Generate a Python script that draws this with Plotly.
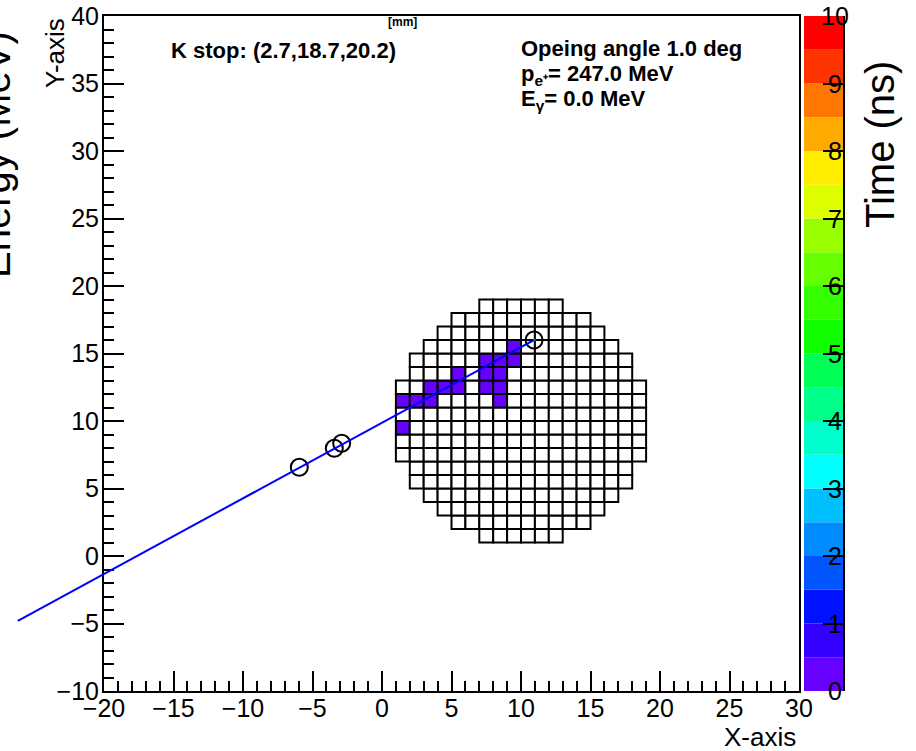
import plotly.graph_objects as go

# ---- axis ranges ----
X_RANGE = [-20, 30]
Y_RANGE = [-10, 40]
T_RANGE = [0, 10]

# ---- calorimeter layout: one entry per row (row bottom edge, first and last cell edge) ----
ROW_Y = [1, 2, 3, 4, 5, 6, 7, 8, 9, 10, 11, 12, 13, 14, 15, 16, 17, 18]
ROW_XMIN = [7, 5, 4, 3, 2, 2, 1, 1, 1, 1, 1, 1, 2, 2, 3, 4, 5, 7]
ROW_XMAX = [13, 15, 16, 17, 18, 18, 19, 19, 19, 19, 19, 19, 18, 18, 17, 16, 15, 13]

# ---- hit cells (lower-left corner) and their time in ns ----
HIT_X = [9, 7, 8, 9, 5, 7, 8, 3, 4, 5, 7, 8, 1, 2, 3, 8, 1]
HIT_Y = [15, 14, 14, 14, 13, 13, 13, 12, 12, 12, 12, 12, 11, 11, 11, 11, 9]
HIT_T = [0.2, 0.2, 0.2, 0.2, 0.2, 0.2, 0.2, 0.2, 0.2, 0.2, 0.2, 0.2, 0.2, 0.2, 0.2, 0.2, 0.2]

# ---- cluster positions and positron track ----
CLUSTER_X = [-5.95, -3.43, -2.9, 10.94]
CLUSTER_Y = [6.57, 7.98, 8.35, 16.0]
TRACK_X = [-26.2, 10.94]
TRACK_Y = [-4.8, 16.0]

# ---- time palette (20 contours over 0..10 ns) ----
PALETTE = ['#6600ff', '#3300ff', '#0011ff', '#0055ff', '#008cff',
           '#00c0ff', '#00ffff', '#00ffcc', '#00ff88', '#00ff55',
           '#11ff00', '#33ff00', '#66ff00', '#99ff00', '#ddff00',
           '#ffee00', '#ffaa00', '#ff7700', '#ff3300', '#ff0000']
PAL_TICKS = [0, 1, 2, 3, 4, 5, 6, 7, 8, 9, 10]

W, H = 916, 751
ML, MR, MT, MB = 104, 73, 16, 60
PW = W - ML - MR
PH = H - MT - MB
X_DOM = [0, 695 / PW]
CB_DOM = [700 / PW, 1]

FONT = "Liberation Sans, Arial, Helvetica, sans-serif"
n_bands = len(PALETTE)
band = (T_RANGE[1] - T_RANGE[0]) / n_bands


def time_color(t):
    i = int((t - T_RANGE[0]) / band)
    return PALETTE[max(0, min(n_bands - 1, i))]


def to_paper(x, y):
    px = X_DOM[0] + (x - X_RANGE[0]) / (X_RANGE[1] - X_RANGE[0]) * (X_DOM[1] - X_DOM[0])
    py = (y - Y_RANGE[0]) / (Y_RANGE[1] - Y_RANGE[0])
    return px, py


def py_of(pix_y):
    # paper y of a pixel row measured from the top of the figure
    return (PH + MT - pix_y) / PH


def px_of(pix_x):
    return (pix_x - ML) / PW


hits = {(hx, hy): t for hx, hy, t in zip(HIT_X, HIT_Y, HIT_T)}

fig = go.Figure()

# calorimeter cells
shapes = []
for y0, xa, xb in zip(ROW_Y, ROW_XMIN, ROW_XMAX):
    for x0 in range(xa, xb):
        fill = time_color(hits[(x0, y0)]) if (x0, y0) in hits else 'white'
        shapes.append(dict(type='rect', xref='x', yref='y', x0=x0, x1=x0 + 1,
                           y0=y0, y1=y0 + 1, fillcolor=fill,
                           line=dict(color='black', width=2), layer='below'))

# positron track (extends past the frame on the left)
(p0x, p0y), (p1x, p1y) = to_paper(TRACK_X[0], TRACK_Y[0]), to_paper(TRACK_X[1], TRACK_Y[1])
shapes.append(dict(type='line', xref='paper', yref='paper', x0=p0x, y0=p0y, x1=p1x, y1=p1y,
                   line=dict(color='#0000ff', width=2), layer='above'))

# cluster markers
fig.add_trace(go.Scatter(x=CLUSTER_X, y=CLUSTER_Y, mode='markers', showlegend=False,
                         marker=dict(symbol='circle-open', size=17, color='black',
                                     line=dict(width=2, color='black')),
                         xaxis='x', yaxis='y', cliponaxis=False))
fig.add_trace(go.Scatter(x=[TRACK_X[1]], y=[TRACK_Y[1]], mode='markers', showlegend=False,
                         marker=dict(symbol='circle', size=3, color='#00cc00'),
                         xaxis='x', yaxis='y'))

# time colour scale drawn as stacked bands
edges = [T_RANGE[0] + i * band for i in range(n_bands)]
fig.add_trace(go.Bar(x=[0.5] * n_bands, y=[band] * n_bands, base=edges, width=1,
                     marker=dict(color=PALETTE, line=dict(width=0)),
                     showlegend=False, xaxis='x2', yaxis='y2', hoverinfo='skip'))

axis_font = dict(family=FONT, size=25, color='black')
common = dict(showgrid=False, zeroline=False, showline=True, linecolor='black',
              linewidth=2, mirror=True, ticks='inside', ticklen=20, tickwidth=2,
              tickcolor='black', dtick=5, tickfont=axis_font, automargin=False,
              minor=dict(dtick=1, ticks='inside', ticklen=10, tickwidth=2, tickcolor='black'))

fig.update_layout(
    width=W, height=H,
    margin=dict(l=ML, r=MR, t=MT, b=MB, pad=0, autoexpand=False),
    paper_bgcolor='white', plot_bgcolor='white',
    barmode='overlay',
    xaxis=dict(range=X_RANGE, domain=X_DOM, anchor='y', tick0=-20,
               ticklabelstandoff=-6, **common),
    yaxis=dict(range=Y_RANGE, domain=[0, 1], anchor='x', tick0=-10,
               ticklabelstandoff=-2, **common),
    xaxis2=dict(range=[0, 1], domain=CB_DOM, anchor='y2', visible=False,
                fixedrange=True, automargin=False),
    yaxis2=dict(range=T_RANGE, domain=[0, 1], anchor='x2', side='right', showgrid=False,
                zeroline=False, showline=True, linecolor='black', linewidth=2,
                ticks='inside', ticklen=20, tickwidth=2, tickcolor='black',
                tickvals=PAL_TICKS, showticklabels=False, automargin=False),
    shapes=shapes,
)

ann = []
cb_lab_x = px_of(835)
for v in PAL_TICKS:
    ann.append(dict(x=cb_lab_x, y=v, xref='paper', yref='y2', text=str(v),
                    xanchor='center', yanchor='middle', font=axis_font))

bold = dict(family=FONT, size=22, color='black')
ann += [
    dict(x=px_of(169), y=py_of(50), text='<b>K stop: (2.7,18.7,20.2)</b>',
         xanchor='left', yanchor='middle', font=bold),
    dict(x=px_of(519), y=py_of(48), text='<b>Opeing angle 1.0 deg</b>',
         xanchor='left', yanchor='middle', font=bold),
    dict(x=px_of(519), y=py_of(75), text='<b>p<sub>e⁺</sub>= 247.0 MeV</b>',
         xanchor='left', yanchor='middle', font=bold),
    dict(x=px_of(519), y=py_of(100), text='<b>E<sub>γ</sub>= 0.0 MeV</b>',
         xanchor='left', yanchor='middle', font=bold),
    dict(x=px_of(402), y=py_of(22), text='<b>[mm]</b>',
         xanchor='center', yanchor='middle', font=dict(family=FONT, size=12, color='black')),
    dict(x=px_of(798), y=py_of(737), text='X-axis',
         xanchor='right', yanchor='middle', font=dict(family=FONT, size=26, color='black')),
    dict(x=px_of(55), y=py_of(53), text='Y-axis', textangle=-90,
         xanchor='center', yanchor='middle', font=dict(family=FONT, size=26, color='black')),
    dict(x=px_of(880), y=py_of(145), text='Time (ns)', textangle=-90,
         xanchor='center', yanchor='middle', font=dict(family=FONT, size=40, color='black')),
    dict(x=px_of(-4), y=py_of(155), text='Energy (MeV)', textangle=-90,
         xanchor='center', yanchor='middle', font=dict(family=FONT, size=40, color='black')),
]
for a in ann:
    a.setdefault('xref', 'paper')
    a.setdefault('yref', 'paper')
    a['showarrow'] = False
fig.update_layout(annotations=ann)

fig.write_html("out.html")
